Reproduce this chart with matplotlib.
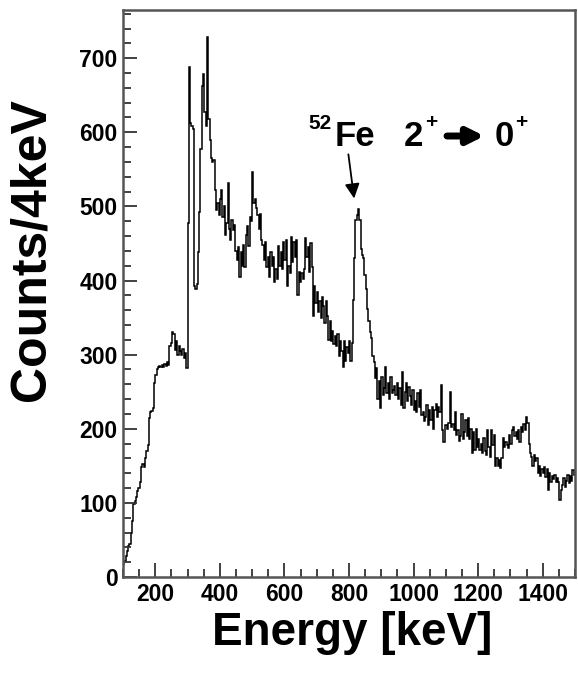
import numpy as np
import matplotlib
matplotlib.use("Agg")
import matplotlib.pyplot as plt
from matplotlib.ticker import MultipleLocator

plt.rcParams['font.family'] = ['Liberation Sans', 'DejaVu Sans']
plt.rcParams['font.weight'] = 'bold'

# gamma spectrum, 4 keV bins from 100 to 1500 keV
bin_width = 4
e_start = 100
counts_100 = [18, 22, 28, 35, 42, 45, 60, 75, 98, 103, 108, 116, 120, 128, 148, 152, 148, 160, 170, 178, 215, 222, 224, 228, 262]
counts_200 = [272, 280, 284, 285, 283, 286, 284, 287, 285, 290, 286, 312, 316, 330, 328, 306, 318, 300, 312, 305, 300, 308, 296, 302, 282]
counts_300 = [478, 688, 612, 608, 604, 392, 388, 396, 438, 492, 578, 662, 678, 628, 608, 728, 618, 590, 565, 560, 562, 522, 495, 505, 488]
counts_400 = [510, 522, 486, 500, 462, 478, 532, 470, 455, 482, 468, 475, 440, 428, 445, 405, 438, 420, 448, 418, 462, 474, 446, 486, 480]
counts_500 = [546, 505, 510, 498, 488, 470, 490, 455, 448, 428, 452, 418, 432, 405, 438, 420, 432, 398, 415, 402, 446, 420, 438, 416, 452]
counts_600 = [428, 455, 392, 420, 410, 459, 425, 452, 432, 455, 380, 412, 398, 410, 402, 415, 458, 432, 445, 412, 450, 418, 352, 392, 370]
counts_700 = [385, 358, 372, 350, 378, 365, 343, 372, 352, 320, 345, 318, 332, 315, 325, 312, 328, 298, 318, 305, 284, 318, 292, 310, 302]
counts_800 = [318, 292, 316, 374, 430, 482, 488, 496, 482, 442, 435, 430, 408, 388, 362, 345, 330, 322, 298, 290, 268, 282, 240, 265, 228]
counts_900 = [270, 245, 255, 284, 248, 262, 240, 270, 248, 252, 258, 245, 262, 240, 255, 232, 276, 228, 250, 262, 238, 256, 244, 232, 252]
counts_1000 = [226, 238, 222, 248, 230, 252, 218, 222, 210, 216, 232, 205, 226, 212, 230, 200, 225, 234, 216, 230, 222, 259, 198, 182, 205]
counts_1100 = [205, 200, 208, 250, 202, 206, 198, 222, 192, 198, 184, 190, 220, 186, 195, 212, 190, 214, 186, 200, 168, 195, 172, 200, 176]
counts_1200 = [186, 172, 180, 168, 188, 170, 165, 198, 175, 162, 198, 178, 192, 150, 160, 150, 158, 147, 160, 188, 176, 182, 178, 174, 192]
counts_1300 = [180, 198, 202, 190, 196, 186, 198, 182, 203, 196, 206, 198, 216, 208, 180, 168, 162, 150, 164, 156, 160, 140, 150, 136, 146]
counts_1400 = [140, 148, 135, 146, 118, 140, 128, 136, 132, 138, 128, 134, 128, 104, 118, 124, 134, 122, 130, 138, 127, 136, 130, 145, 138]

counts = np.array(counts_100 + counts_200 + counts_300 + counts_400 + counts_500 +
                  counts_600 + counts_700 + counts_800 + counts_900 + counts_1000 +
                  counts_1100 + counts_1200 + counts_1300 + counts_1400)
edges = e_start + bin_width * np.arange(len(counts) + 1)

x_ticks = [200, 400, 600, 800, 1000, 1200, 1400]
y_ticks = [0, 100, 200, 300, 400, 500, 600, 700]

fig = plt.figure(figsize=(5.78, 6.76), dpi=100)
ax = fig.add_axes([0.2128, 0.1464, 0.782, 0.8388])

ax.stairs(counts, edges, baseline=None, color='black', lw=1.1)

ax.set_xlim(100, 1500)
ax.set_ylim(0, 765)
ax.set_xticks(x_ticks)
ax.set_yticks(y_ticks)
ax.xaxis.set_minor_locator(MultipleLocator(50))
ax.yaxis.set_minor_locator(MultipleLocator(20))
ax.tick_params(which='both', direction='in', top=False, right=False,
               color='#333333', width=1.3, labelsize=16.5)
ax.tick_params(which='major', length=10, pad=4)
ax.tick_params(which='minor', length=6)
for s in ax.spines.values():
    s.set_color('#555555')
    s.set_linewidth(1.8)

# axis titles
fig.text(32 / 578, 1 - 250 / 676, 'Counts/4keV', rotation=90, fontsize=36,
         fontweight='bold', ha='center', va='center')
fig.text(352 / 578, 1 - 633 / 676, 'Energy [keV]', fontsize=33,
         fontweight='bold', ha='center', va='center')

# peak label
ax.text(675, 604, '52', fontsize=15, fontweight='bold', ha='left', va='baseline')
ax.text(754, 581, 'Fe', fontsize=25, fontweight='bold', ha='left', va='baseline')
ax.text(971, 581, '2', fontsize=25, fontweight='bold', ha='left', va='baseline')
ax.text(1037, 606, '+', fontsize=15, fontweight='bold', ha='left', va='baseline')
ax.text(1252, 581, '0', fontsize=25, fontweight='bold', ha='left', va='baseline')
ax.text(1316, 606, '+', fontsize=15, fontweight='bold', ha='left', va='baseline')
ax.annotate('', xy=(1228, 595), xytext=(1095, 595),
            arrowprops=dict(arrowstyle='-|>', lw=5, color='black', mutation_scale=24))
ax.annotate('', xy=(817, 507), xytext=(797, 574),
            arrowprops=dict(arrowstyle='-|>', lw=1.3, color='black', mutation_scale=22))

fig.savefig('out.png', dpi=100)
